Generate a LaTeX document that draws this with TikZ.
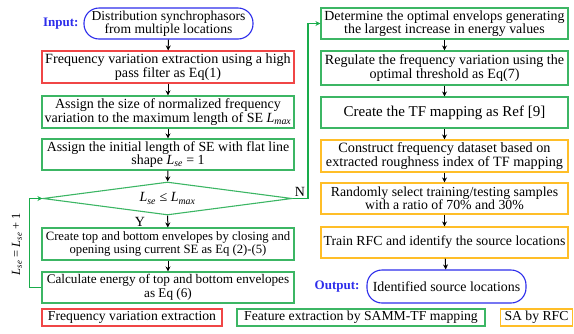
\documentclass[tikz,border=0pt]{standalone}
\usepackage{fontspec}
\setmainfont{Liberation Serif}
\usetikzlibrary{shapes.geometric,arrows.meta}
\definecolor{cred}{RGB}{240,70,70}
\definecolor{cgreen}{RGB}{60,182,100}
\definecolor{clink}{RGB}{25,172,75}
\definecolor{cyel}{RGB}{255,190,40}
\definecolor{cblue}{RGB}{45,45,235}
\newcommand\Lse{\textit{L}\textsubscript{\textit{se}}}
\newcommand\Lmax{\textit{L}\textsubscript{\textit{max}}}
\newcommand\fsz[1]{\fontsize{#1}{13.5}\selectfont}
\tikzset{
  bx/.style={draw, line width=1.1pt, align=center, inner sep=0pt, font=\fsz{14}},
  lbox/.style={bx, minimum width=252pt},
  rbox/.style={bx, minimum width=247pt},
  io/.style={bx, draw=cblue, rounded corners=15pt},
  lab/.style={font=\fsz{13}\bfseries, text=cblue},
  leg/.style={bx, minimum height=17pt, font=\fsz{13.7}},
  arr/.style={-{Stealth[length=5pt,width=5pt]}, line width=1pt},
  garr/.style={-{Stealth[length=5pt,width=5pt]}, line width=1.6pt, draw=clink},
  txt/.style={font=\fsz{14}},
}
\begin{document}
\begin{tikzpicture}[x=1pt,y=-1pt]
\useasboundingbox (0,0) rectangle (574,333);
% left column
\node[io, minimum width=169pt, minimum height=31pt, font=\fsz{13.6}] (in) at (168.5,23.5) {Distribution synchrophasors\\from multiple locations};
\node[lab, anchor=east] (inl) at (82,24) {Input:};
\node[lbox, draw=cred, minimum height=32pt, font=\fsz{14.1}] (a1) at (168,67) {Frequency variation extraction using a high\\pass filter as Eq(1)};
\node[lbox, draw=cgreen, minimum height=32pt] (a2) at (168,112) {Assign the size of normalized frequency\\variation to the maximum length of SE \Lmax};
\node[lbox, draw=cgreen, minimum height=31pt, font=\fsz{13.9}] (a3) at (168,154.5) {Assign the initial length of SE with flat line\\shape \Lse{} = 1};
\node[draw=cgreen, line width=1.1pt, diamond, aspect=7, inner sep=0pt, minimum width=249pt, minimum height=33pt, font=\fsz{14}] (d) at (167.5,198.5) {\Lse{} ≤ \Lmax};
\node[lbox, draw=cgreen, minimum height=32pt, font=\fsz{12.7}] (a4) at (168,244) {Create top and bottom envelopes by closing and\\opening using current SE as Eq (2)-(5)};
\node[lbox, draw=cgreen, minimum height=31pt, font=\fsz{13.2}] (a5) at (168,287.5) {Calculate energy of top and bottom envelopes\\as Eq (6)};
\node[txt] (y) at (140,222) {Y};
\node[txt] (n) at (300,192) {N};
\node[txt, rotate=90, font=\fsz{12.5}] (loopl) at (17,244) {\Lse{} = \Lse{} + 1};
% right column
\node[rbox, draw=cgreen, minimum height=31pt, font=\fsz{13.9}] (b1) at (444.5,23.5) {Determine the optimal envelops generating\\the largest increase in energy values};
\node[rbox, draw=cgreen, minimum height=34pt, font=\fsz{14.1}] (b2) at (444.5,68) {Regulate the frequency variation using the\\optimal threshold as Eq(7)};
\node[rbox, draw=cgreen, minimum height=31pt, font=\fsz{15}] (b3) at (444.5,112.5) {Create the TF mapping as Ref [9]};
\node[rbox, draw=cyel, minimum height=32pt, font=\fsz{14.2}] (b4) at (444.5,156) {Construct frequency dataset based on\\extracted roughness index of TF mapping};
\node[rbox, draw=cyel, minimum height=31pt, font=\fsz{13.8}] (b5) at (444.5,198.5) {Randomly select training/testing samples\\with a ratio of 70\% and 30\%};
\node[rbox, draw=cyel, minimum height=31pt, font=\fsz{13.8}] (b6) at (444.5,242.5) {Train RFC and identify the source locations};
\node[io, minimum width=159pt, minimum height=33pt, font=\fsz{13.9}] (out) at (446.5,286.5) {Identified source locations};
\node[lab, anchor=east] (outl) at (363,287) {Output:};
% legend
\node[leg, draw=cred, minimum width=180pt] (g1) at (132,317.5) {Frequency variation extraction};
\node[leg, draw=cgreen, minimum width=248pt] (g2) at (361,317.5) {Feature extraction by SAMM-TF mapping};
\node[leg, draw=cyel, minimum width=72pt] (g3) at (536.5,317.5) {SA by RFC};
% arrows
\draw[arr] (in) -- (a1);
\draw[arr] (a1) -- (a2);
\draw[arr] (a2) -- (a3);
\draw[arr] (a3) -- (d);
\draw[arr] (d) -- (a4);
\draw[arr] (a4) -- (a5);
\draw[garr] (a5.west) -- ++(-12,0) |- (d.west);
\draw[garr] (d.east) -- (308,198.5) |- (b1.west);
\draw[arr] (b1) -- (b2);
\draw[arr] (b2) -- (b3);
\draw[arr] (b3) -- (b4);
\draw[arr] (b4) -- (b5);
\draw[arr] (b5) -- (b6);
\draw[arr] (b6) -- (out);
\end{tikzpicture}
\end{document}
